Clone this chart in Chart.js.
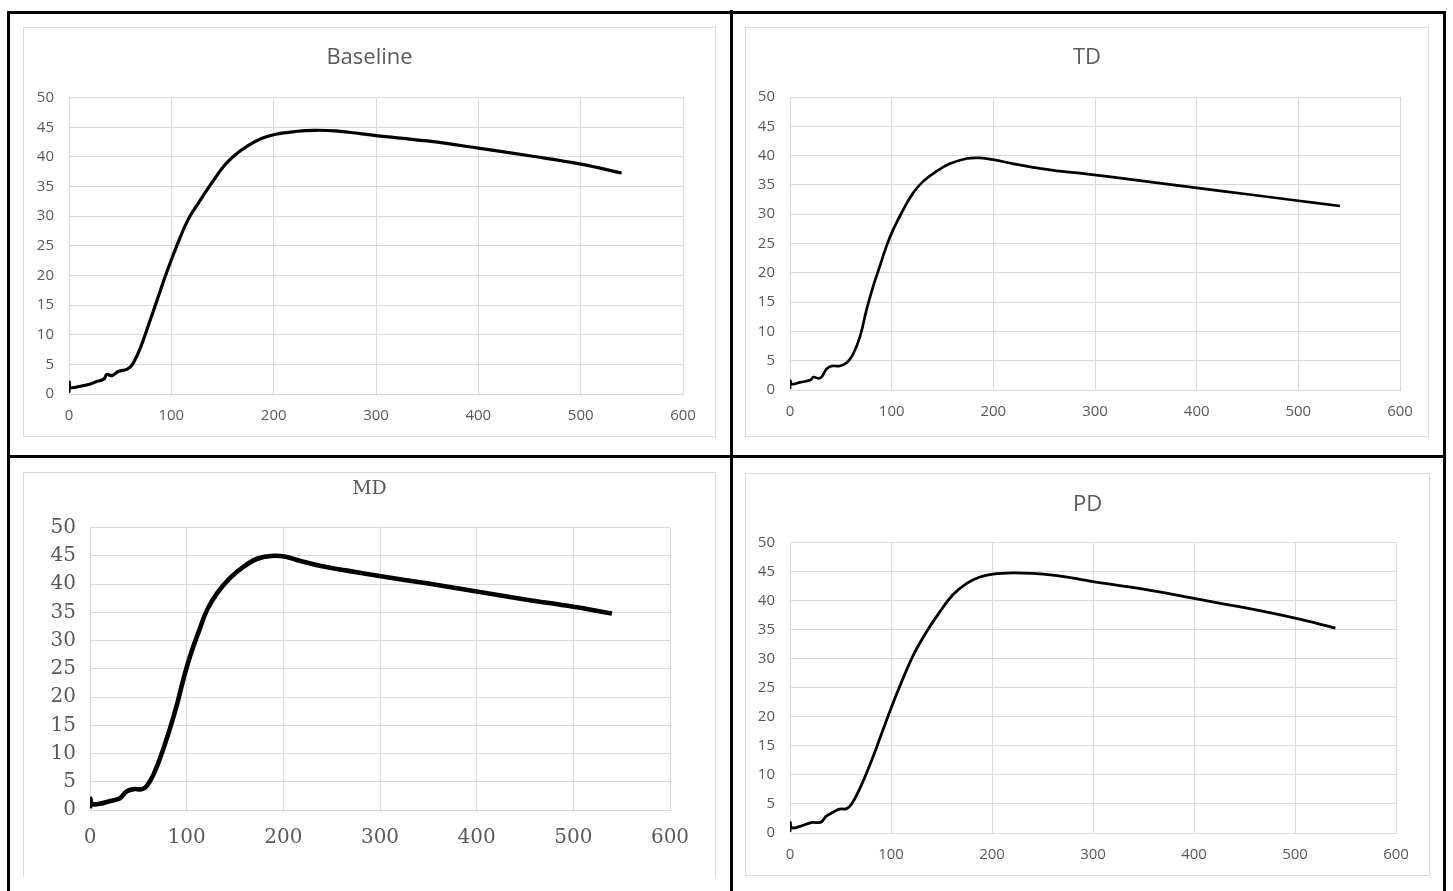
<!DOCTYPE html>
<html>
<head>
<meta charset="utf-8">
<script src="https://cdn.jsdelivr.net/npm/chart.js@4/dist/chart.umd.min.js"></script>
<style>
  body { margin: 0; background: #fff; width: 1453px; height: 891px; overflow: hidden; position: relative; }
  .rule { position: absolute; background: #000; }
  .frame { position: absolute; border: 1px solid #d9d9d9; box-sizing: border-box; background: #fff; }
  canvas { position: absolute; }
</style>
</head>
<body>
<!-- table rules -->
<div class="rule" style="left:8px;top:11px;width:1438px;height:3px"></div>
<div class="rule" style="left:7px;top:11px;width:3px;height:880px"></div>
<div class="rule" style="left:730px;top:10px;width:3px;height:881px"></div>
<div class="rule" style="left:1443px;top:11px;width:3px;height:880px"></div>
<div class="rule" style="left:8px;top:455px;width:1438px;height:3px"></div>

<div class="frame" style="left:23px;top:27px;width:693px;height:410px"></div>
<div class="frame" style="left:745px;top:27px;width:684px;height:410px"></div>
<div class="frame" style="left:23px;top:472px;width:693px;height:405px;border-bottom:none"></div>
<div class="frame" style="left:745px;top:473px;width:685px;height:403px"></div>

<canvas id="baseline" width="693" height="410" style="left:23px;top:27px"></canvas>
<canvas id="td" width="684" height="410" style="left:745px;top:27px"></canvas>
<canvas id="md" width="693" height="404" style="left:23px;top:472px"></canvas>
<canvas id="pd" width="685" height="403" style="left:745px;top:473px"></canvas>

<script>
const xTicks = [0, 100, 200, 300, 400, 500, 600]
const yTicks = [0, 5, 10, 15, 20, 25, 30, 35, 40, 45, 50]

const baselineTime = [0, 0.3, 1, 11, 21, 27, 34, 37, 42, 48, 57, 62, 70, 78, 86, 96, 106, 116, 126, 139, 152, 162, 175, 188, 201, 221, 240, 260, 286, 300, 350, 400, 450, 500, 540]
const baselineValue = [0.2, 2.0, 1.1, 1.3, 1.7, 2.1, 2.5, 3.3, 3.1, 3.8, 4.2, 5.0, 7.9, 11.8, 15.8, 20.8, 25.3, 29.3, 32.1, 35.5, 38.6, 40.3, 41.9, 43.1, 43.8, 44.3, 44.5, 44.4, 43.9, 43.6, 42.7, 41.5, 40.2, 38.8, 37.3]

const tdTime = [0, 0.3, 1.6, 10, 20, 23, 28, 31, 36, 41, 49, 56, 62, 69, 75, 82, 88.5, 95, 101.6, 111.5, 121, 131, 144, 157, 174, 187, 200, 220, 239, 262, 285, 350, 400, 450, 500, 541]
const tdValue = [0.2, 1.6, 1.0, 1.3, 1.7, 2.2, 2.0, 2.2, 3.6, 4.1, 4.1, 4.7, 6.1, 9.2, 13.5, 17.8, 21.2, 24.6, 27.4, 30.8, 33.6, 35.6, 37.3, 38.6, 39.5, 39.6, 39.3, 38.6, 38.0, 37.4, 37.0, 35.6, 34.5, 33.4, 32.3, 31.4]

const mdTime = [0, 0.3, 2, 10, 21, 31, 38, 45, 54, 59, 66, 74, 83, 90, 97, 104, 112.5, 121, 131.5, 145, 159, 173, 187, 201, 218, 239, 266, 301, 350, 400, 450, 500, 540]
const mdValue = [0.3, 2.0, 1.1, 1.1, 1.6, 2.1, 3.3, 3.7, 3.7, 4.3, 6.4, 9.9, 14.6, 18.7, 23.4, 27.5, 31.6, 35.4, 38.4, 41.1, 43.1, 44.5, 45.0, 44.9, 44.1, 43.2, 42.4, 41.4, 40.1, 38.7, 37.3, 36.0, 34.8]

const pdTime = [0, 0.3, 1.6, 10, 21, 26, 31, 36, 43, 49, 56, 61, 69, 79, 89, 99, 109, 122, 135, 148, 161, 175, 188, 201, 221, 240, 260, 287, 300, 350, 400, 450, 500, 540]
const pdValue = [0.2, 1.8, 0.9, 1.15, 1.8, 1.8, 1.9, 2.9, 3.6, 4.1, 4.2, 5.0, 7.6, 11.7, 16.3, 21.0, 25.4, 30.6, 34.6, 38.0, 41.0, 43.0, 44.1, 44.6, 44.8, 44.7, 44.4, 43.7, 43.3, 42.0, 40.4, 38.8, 37.0, 35.3]

const gridColor = '#d9d9d9'
const textColor = '#595959'
const sans = '"Open Sans", sans-serif'
const serif = '"DejaVu Serif", serif'

// look.left / top are plot edges inside the canvas, right / bottom are gaps to the canvas edge
const createCurveChart = (id, title, times, values, look) => {
  const points = times.map((t, i) => ({ x: t, y: values[i] }))
  const lineH = look.titleSize * 1.2

  new Chart(document.getElementById(id), {
    type: 'line',
    data: {
      datasets: [{
        data: points,
        borderColor: '#000',
        borderWidth: look.lineWidth,
        pointRadius: 0,
        tension: 0.4,
        fill: false,
      }],
    },
    options: {
      responsive: false,
      animation: false,
      layout: { padding: 0 },
      plugins: {
        legend: { display: false },
        tooltip: { enabled: false },
        title: {
          display: true,
          text: title,
          color: textColor,
          font: { family: look.titleFont, size: look.titleSize, weight: 'normal' },
          padding: { top: look.titleMid - lineH / 2, bottom: look.top - look.titleMid - lineH / 2 },
        },
      },
      scales: {
        x: {
          type: 'linear',
          min: xTicks[0],
          max: xTicks[xTicks.length - 1],
          afterBuildTicks: (s) => { s.ticks = xTicks.map((v) => ({ value: v })) },
          ticks: { color: textColor, font: { family: look.tickFont, size: look.tickSize }, padding: look.xPad, maxRotation: 0 },
          grid: { color: gridColor, drawTicks: false },
          border: { color: gridColor },
          afterFit: (s) => { s.height = look.bottom; s.paddingRight = look.right; s.paddingLeft = 0 },
        },
        y: {
          min: yTicks[0],
          max: yTicks[yTicks.length - 1],
          afterBuildTicks: (s) => { s.ticks = yTicks.map((v) => ({ value: v })) },
          ticks: { color: textColor, font: { family: look.tickFont, size: look.tickSize }, padding: look.yPad },
          grid: { color: gridColor, drawTicks: false },
          border: { color: gridColor },
          afterFit: (s) => { s.width = look.left },
        },
      },
    },
  })
}

const excelLook = { titleFont: sans, titleSize: 22, tickFont: sans, tickSize: 15, xPad: 13, yPad: 15 }

createCurveChart('baseline', 'Baseline', baselineTime, baselineValue,
  { ...excelLook, left: 46, top: 70.7, right: 33, bottom: 43, titleMid: 31, lineWidth: 3.2 })
createCurveChart('td', 'TD', tdTime, tdValue,
  { ...excelLook, left: 45, top: 70, right: 29, bottom: 47, titleMid: 31, lineWidth: 2.7 })
createCurveChart('md', 'MD', mdTime, mdValue,
  { titleFont: serif, titleSize: 19, tickFont: serif, tickSize: 20, xPad: 16, yPad: 14,
    left: 67, top: 55.7, right: 46, bottom: 66, titleMid: 17, lineWidth: 4.6 })
createCurveChart('pd', 'PD', pdTime, pdValue,
  { ...excelLook, left: 45, top: 69.7, right: 34, bottom: 43, titleMid: 32, lineWidth: 2.8 })
</script>
</body>
</html>
